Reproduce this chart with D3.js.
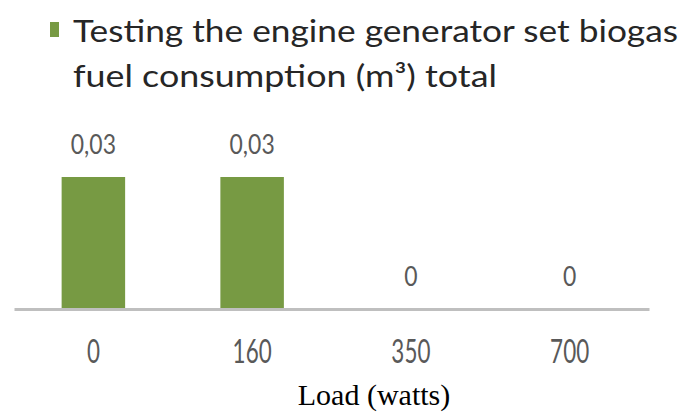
<!DOCTYPE html>
<html>
<head>
<meta charset="utf-8">
<script src="https://cdn.jsdelivr.net/npm/d3@7"></script>
<style>
    body { margin: 0; background: #fff; }
    .x.axis path { stroke: #bfbfbf; stroke-width: 3px; }
    .x.axis text { font-family: Lato, sans-serif; font-size: 33px; fill: #595959; }
    .label { font-family: Lato, sans-serif; font-size: 27px; fill: #595959; }
    .legend text { font-family: Lato, sans-serif; font-size: 30px; fill: #262626; }
</style>
</head>
<body>
<div id="graph"></div>
<script>
var loads = ["0", "160", "350", "700"];
var fuel = [0.03, 0.03, 0, 0];
var legendLines = ["Testing the engine generator set biogas", "fuel consumption (m\u00b3) total"];
var xTitle = "Load (watts)";

function ploteverything() {
    var width = 683,
        height = 420;

    var svg = d3.select("#graph").append("svg")
        .attr("width", width)
        .attr("height", height);

    var x = d3.scaleBand()
        .domain(loads)
        .range([14, 649])
        .paddingInner(0.6)
        .paddingOuter(0.3);

    var y = d3.scaleLinear()
        .domain([0, 0.03])
        .range([309, 177]);

    // numbers use a decimal comma
    var fmt = d3.formatLocale({ decimal: ",", thousands: ".", grouping: [3], currency: ["", ""] }).format("~g");

    var data = loads.map(function (d, i) { return { load: d, value: fuel[i] }; });

    svg.selectAll(".bar")
        .data(data)
        .enter().append("rect")
        .attr("class", "bar")
        .attr("x", function (d) { return x(d.load); })
        .attr("y", function (d) { return y(d.value); })
        .attr("width", x.bandwidth())
        .attr("height", function (d) { return y(0) - y(d.value); })
        .attr("fill", "#779a43");

    var xAxis = d3.axisBottom(x)
        .tickSize(0)
        .tickSizeOuter(0);

    var gx = svg.append("g")
        .attr("class", "x axis")
        .attr("transform", "translate(0," + y(0) + ")")
        .call(xAxis);

    gx.selectAll("text")
        .attr("y", 54)
        .attr("dy", 0)
        .attr("transform", "scale(0.68,1)");

    svg.selectAll(".label")
        .data(data)
        .enter().append("text")
        .attr("class", "label")
        .attr("text-anchor", "middle")
        .attr("transform", function (d) {
            return "translate(" + (x(d.load) + x.bandwidth() / 2) + "," + (y(d.value) - 23) + ") scale(0.85,1)";
        })
        .text(function (d) { return fmt(d.value); });

    // legend
    var legend = svg.append("g").attr("class", "legend");
    legend.append("rect")
        .attr("x", 50).attr("y", 22)
        .attr("width", 9).attr("height", 15)
        .attr("fill", "#779a43");
    legend.selectAll("text")
        .data(legendLines)
        .enter().append("text")
        .attr("x", 73)
        .attr("y", function (d, i) { return 42 + i * 45; })
        .attr("textLength", function (d, i) { return i == 0 ? 605 : 424; })
        .attr("lengthAdjust", "spacingAndGlyphs")
        .text(function (d) { return d; });

    svg.append("text")
        .attr("x", 374)
        .attr("y", 405)
        .attr("text-anchor", "middle")
        .style("font-family", "'Liberation Serif', 'Times New Roman', serif")
        .style("font-size", "30px")
        .style("fill", "#000")
        .text(xTitle);
}
ploteverything();
</script>
</body>
</html>
